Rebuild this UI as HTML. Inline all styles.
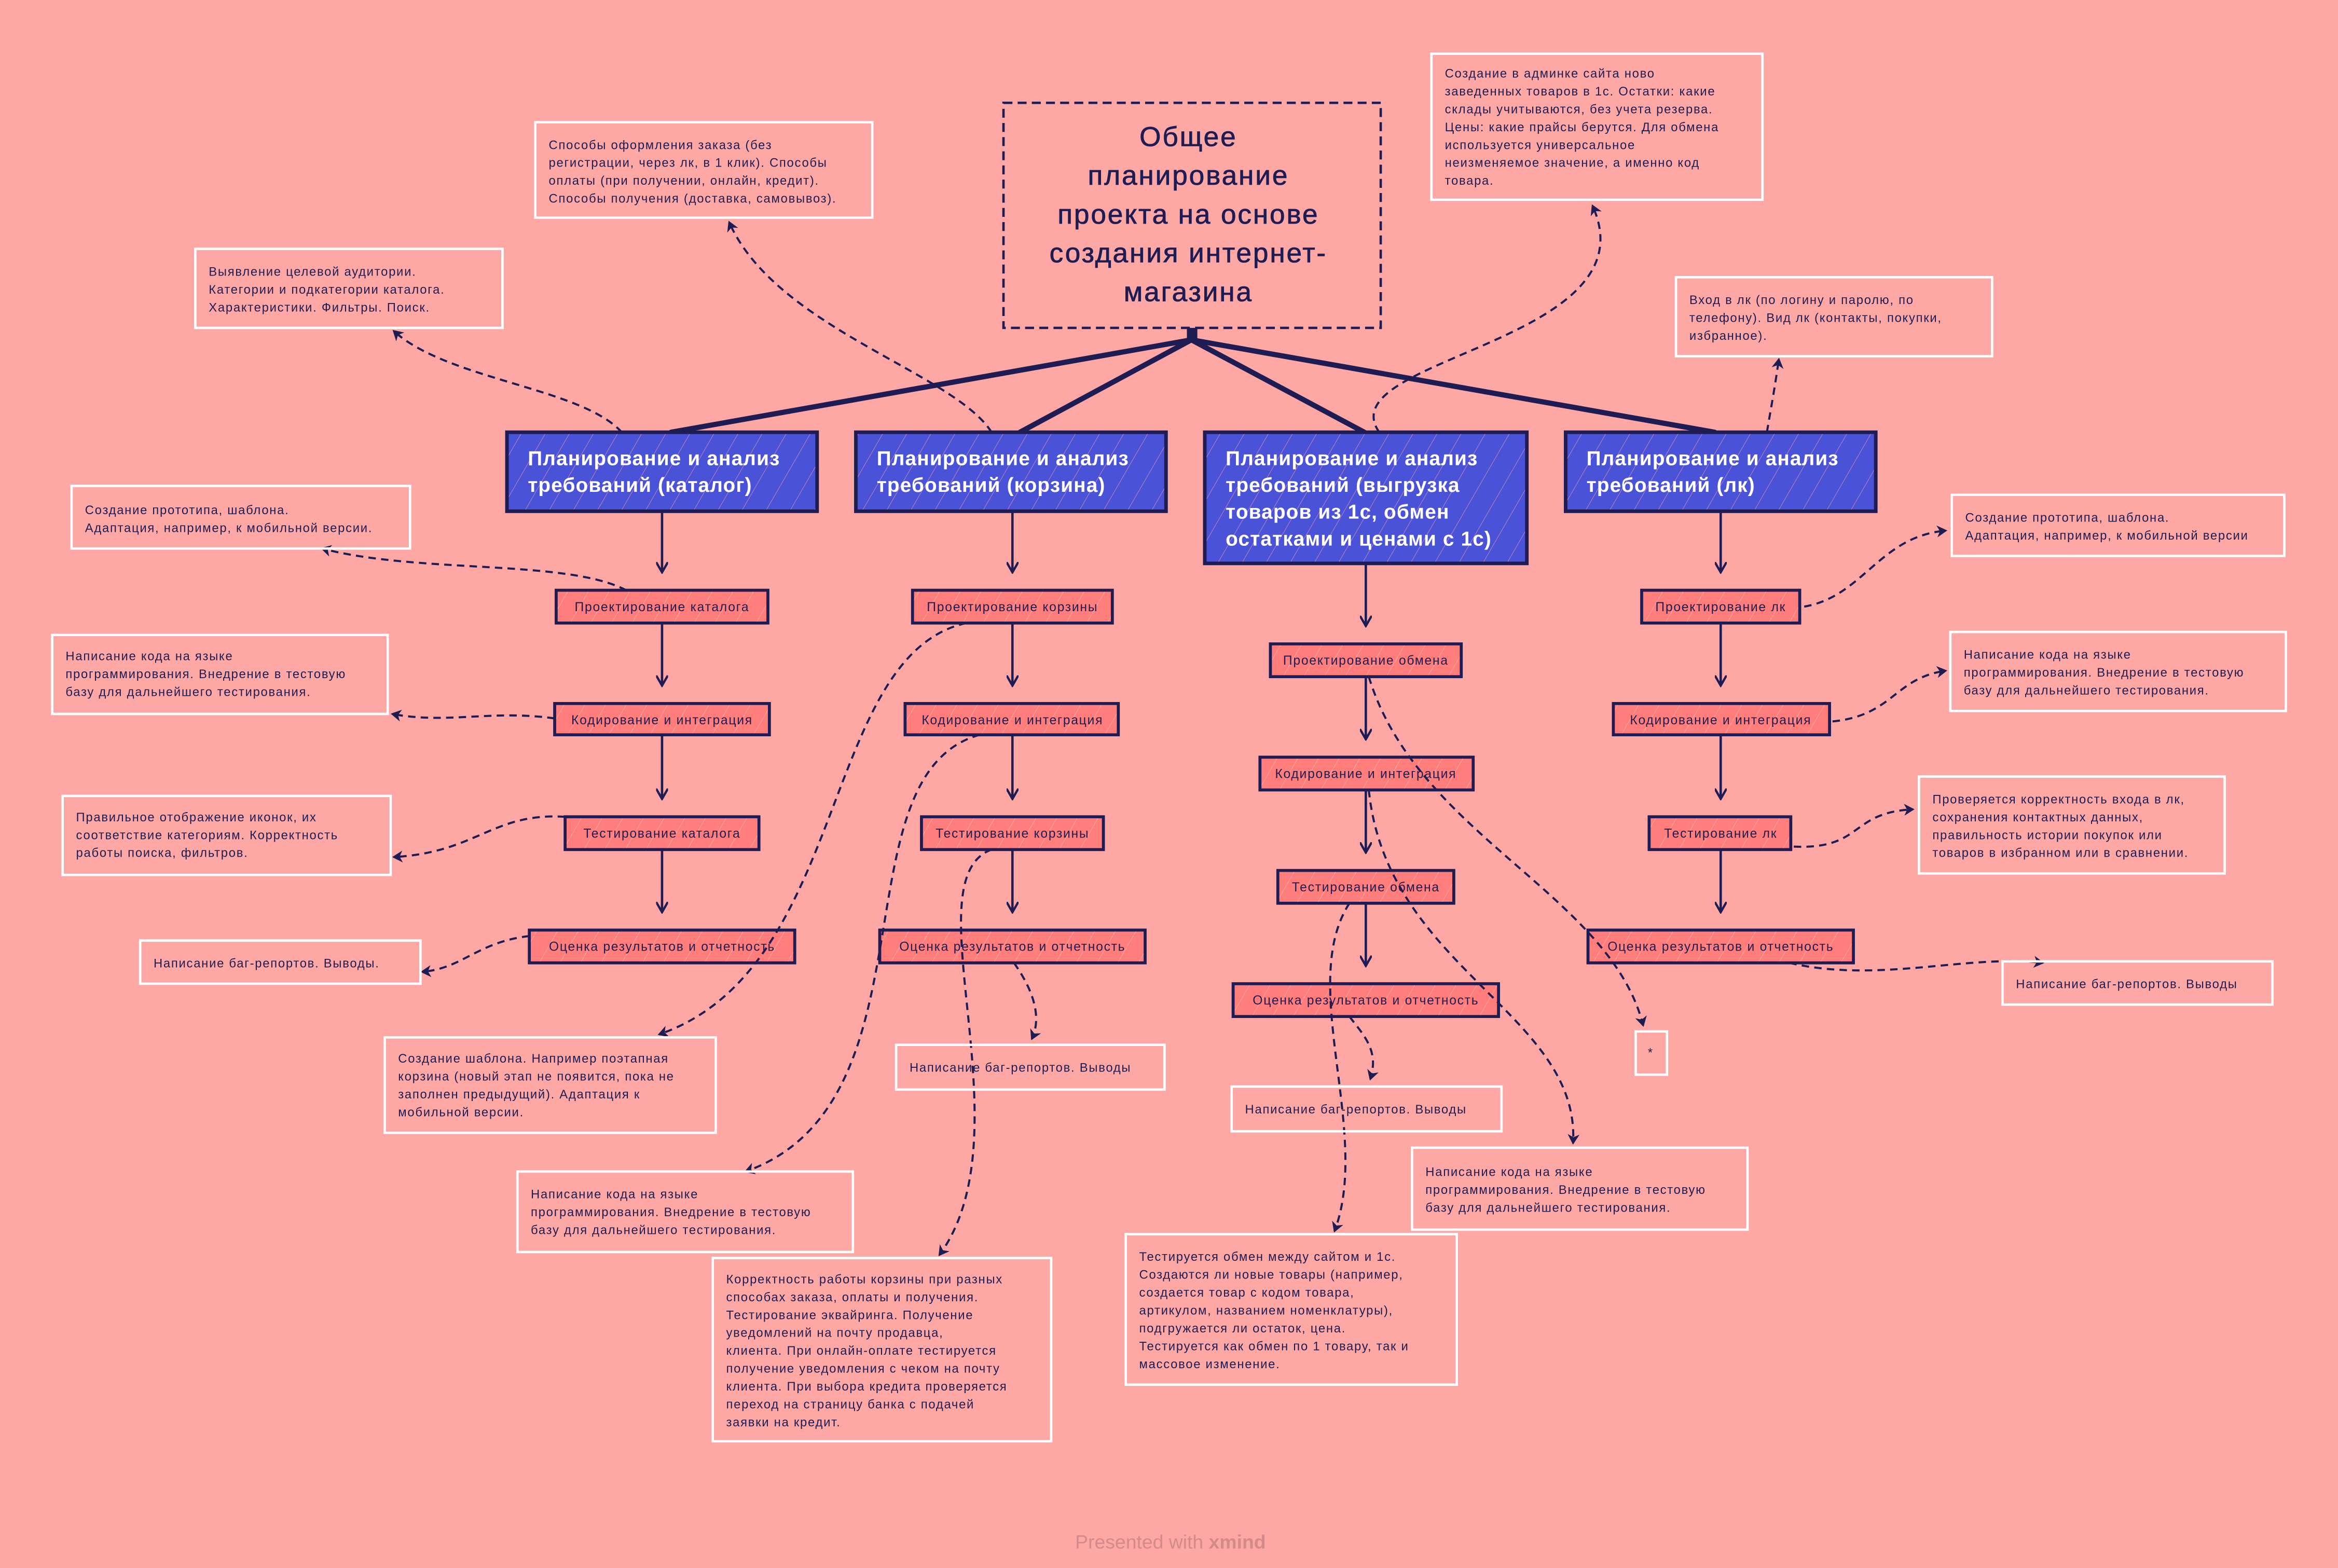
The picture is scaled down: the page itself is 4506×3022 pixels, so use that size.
<!DOCTYPE html>
<html><head><meta charset="utf-8">
<style>
html,body{margin:0;padding:0;background:#fea8a6;}
svg{display:block;}
text{font-family:"Liberation Sans","DejaVu Sans",sans-serif;}
.n{fill:none;stroke:#fff;stroke-width:1.6;}
.nt{font-size:8.3px;fill:#1e1c52;letter-spacing:0.6px;}
.sb{fill:#ff7d7b;stroke:#1e1c52;stroke-width:2;}
.st{font-size:8.6px;fill:#1e1c52;letter-spacing:0.6px;}
.bb{fill:#4a52d8;stroke:#1e1c52;stroke-width:2.4;}
.bt{font-size:13.5px;fill:#fff;font-weight:bold;letter-spacing:0.4px;}
.d{fill:none;stroke:#1e1c52;stroke-width:1.4;stroke-dasharray:5 3.5;marker-end:url(#ah);}
.s{fill:none;stroke:#1e1c52;stroke-width:1.6;marker-end:url(#ah2);}
.t{stroke:#1e1c52;stroke-width:3.5;stroke-linecap:round;}
</style></head><body>
<svg width="4506" height="3022" viewBox="0 0 1568 1052" preserveAspectRatio="none" xmlns="http://www.w3.org/2000/svg">
<defs>
<marker id="ah" markerWidth="8" markerHeight="8" refX="6" refY="4" orient="auto" markerUnits="userSpaceOnUse"><path d="M0,0 L7,4 L0,8 L2,4 Z" fill="#1e1c52"/></marker>
<marker id="ah2" markerWidth="8" markerHeight="8" refX="6" refY="4" orient="auto" markerUnits="userSpaceOnUse"><path d="M0,0 L7,4 L0,8" fill="none" stroke="#1e1c52" stroke-width="1.5"/></marker>
<pattern id="hb" width="14" height="14" patternUnits="userSpaceOnUse" patternTransform="rotate(30)"><rect width="14" height="14" fill="#4a52d8"/><line x1="0" y1="0" x2="0" y2="14" stroke="#f09aa8" stroke-width="0.6" opacity="0.8"/></pattern>
<pattern id="hs" width="12" height="12" patternUnits="userSpaceOnUse" patternTransform="rotate(30)"><rect width="12" height="12" fill="#ff7d7b"/><line x1="0" y1="0" x2="0" y2="12" stroke="#ffb0ae" stroke-width="0.6"/></pattern>
</defs>
<rect width="1568" height="1052" fill="#fea8a6"/>

<rect x="673" y="69" width="253" height="151" fill="none" stroke="#1e1c52" stroke-width="1.6" stroke-dasharray="6 3.5"/>
<g font-size="18.5" fill="#1e1c52" text-anchor="middle" letter-spacing="1" stroke="#1e1c52" stroke-width="0.3">
<text x="797" y="98">Общее</text>
<text x="797" y="124">планирование</text>
<text x="797" y="150">проекта на основе</text>
<text x="797" y="176">создания интернет-</text>
<text x="797" y="202">магазина</text>
</g>
<rect x="796" y="220" width="7" height="8" fill="#1e1c52"/>
<line class="t" x1="799" y1="228" x2="450" y2="290"/>
<line class="t" x1="799" y1="228" x2="684" y2="290"/>
<line class="t" x1="799" y1="228" x2="915" y2="290"/>
<line class="t" x1="799" y1="228" x2="1150" y2="290"/>

<rect class="bb" x="340" y="290" width="208" height="53" style="fill:url(#hb)"/>
<text class="bt" x="354" y="312">Планирование и анализ</text>
<text class="bt" x="354" y="330">требований (каталог)</text>
<rect class="bb" x="574" y="290" width="208" height="53" style="fill:url(#hb)"/>
<text class="bt" x="588" y="312">Планирование и анализ</text>
<text class="bt" x="588" y="330">требований (корзина)</text>
<rect class="bb" x="808" y="290" width="216" height="88" style="fill:url(#hb)"/>
<text class="bt" x="822" y="312">Планирование и анализ</text>
<text class="bt" x="822" y="330">требований (выгрузка</text>
<text class="bt" x="822" y="348">товаров из 1с, обмен</text>
<text class="bt" x="822" y="366">остатками и ценами с 1с)</text>
<rect class="bb" x="1050" y="290" width="208" height="53" style="fill:url(#hb)"/>
<text class="bt" x="1064" y="312">Планирование и анализ</text>
<text class="bt" x="1064" y="330">требований (лк)</text>

<path class="s" d="M444,343 V383"/><path class="s" d="M444,418 V459"/><path class="s" d="M444,493 V535"/><path class="s" d="M444,570 V611"/>
<path class="s" d="M679,343 V383"/><path class="s" d="M679,418 V459"/><path class="s" d="M679,493 V535"/><path class="s" d="M679,570 V611"/>
<path class="s" d="M916,378 V419"/><path class="s" d="M916,454 V495"/><path class="s" d="M916,530 V571"/><path class="s" d="M916,606 V647"/>
<path class="s" d="M1154,343 V383"/><path class="s" d="M1154,418 V459"/><path class="s" d="M1154,493 V535"/><path class="s" d="M1154,570 V611"/>

<g>
<rect class="sb" x="373" y="396" width="142" height="22" style="fill:url(#hs)"/><text class="st" x="444" y="410" text-anchor="middle">Проектирование каталога</text>
<rect class="sb" x="372" y="472" width="144" height="21" style="fill:url(#hs)"/><text class="st" x="444" y="486" text-anchor="middle">Кодирование и интеграция</text>
<rect class="sb" x="379" y="548" width="130" height="22" style="fill:url(#hs)"/><text class="st" x="444" y="562" text-anchor="middle">Тестирование каталога</text>
<rect class="sb" x="355" y="624" width="178" height="22" style="fill:url(#hs)"/><text class="st" x="444" y="638" text-anchor="middle">Оценка результатов и отчетность</text>

<rect class="sb" x="612" y="396" width="134" height="22" style="fill:url(#hs)"/><text class="st" x="679" y="410" text-anchor="middle">Проектирование корзины</text>
<rect class="sb" x="607" y="472" width="143" height="21" style="fill:url(#hs)"/><text class="st" x="679" y="486" text-anchor="middle">Кодирование и интеграция</text>
<rect class="sb" x="618" y="548" width="122" height="22" style="fill:url(#hs)"/><text class="st" x="679" y="562" text-anchor="middle">Тестирование корзины</text>
<rect class="sb" x="590" y="624" width="178" height="22" style="fill:url(#hs)"/><text class="st" x="679" y="638" text-anchor="middle">Оценка результатов и отчетность</text>

<rect class="sb" x="852" y="432" width="128" height="22" style="fill:url(#hs)"/><text class="st" x="916" y="446" text-anchor="middle">Проектирование обмена</text>
<rect class="sb" x="845" y="508" width="143" height="22" style="fill:url(#hs)"/><text class="st" x="916" y="522" text-anchor="middle">Кодирование и интеграция</text>
<rect class="sb" x="857" y="584" width="118" height="22" style="fill:url(#hs)"/><text class="st" x="916" y="598" text-anchor="middle">Тестирование обмена</text>
<rect class="sb" x="827" y="660" width="178" height="22" style="fill:url(#hs)"/><text class="st" x="916" y="674" text-anchor="middle">Оценка результатов и отчетность</text>

<rect class="sb" x="1101" y="396" width="106" height="22" style="fill:url(#hs)"/><text class="st" x="1154" y="410" text-anchor="middle">Проектирование лк</text>
<rect class="sb" x="1082" y="472" width="145" height="21" style="fill:url(#hs)"/><text class="st" x="1154" y="486" text-anchor="middle">Кодирование и интеграция</text>
<rect class="sb" x="1106" y="548" width="95" height="22" style="fill:url(#hs)"/><text class="st" x="1154" y="562" text-anchor="middle">Тестирование лк</text>
<rect class="sb" x="1065" y="624" width="178" height="22" style="fill:url(#hs)"/><text class="st" x="1154" y="638" text-anchor="middle">Оценка результатов и отчетность</text>
</g>

<path class="d" d="M417,290 C390,260 300,255 264,222"/>
<path class="d" d="M665,290 C640,250 520,220 489,149"/>
<path class="d" d="M925,290 C890,240 1110,230 1068,138"/>
<path class="d" d="M1185,290 C1188,272 1190,262 1193,241"/>
<path class="d" d="M420,396 C380,375 280,385 216,368"/>
<path class="d" d="M372,482 C330,476 300,486 263,479"/>
<path class="d" d="M379,548 C330,545 320,572 264,575"/>
<path class="d" d="M355,628 C320,632 310,650 283,652"/>
<path class="d" d="M648,418 C550,440 570,650 442,694"/>
<path class="d" d="M657,493 C560,520 630,740 500,786"/>
<path class="d" d="M665,570 C610,590 690,760 630,842"/>
<path class="d" d="M680,646 C690,660 700,680 692,697"/>
<path class="d" d="M918,454 C950,560 1080,600 1102,688"/>
<path class="d" d="M918,530 C930,650 1060,680 1055,767"/>
<path class="d" d="M905,606 C870,660 920,760 895,826"/>
<path class="d" d="M905,682 C915,695 925,705 919,724"/>
<path class="d" d="M1210,407 C1250,400 1260,360 1305,356"/>
<path class="d" d="M1229,484 C1270,480 1270,455 1305,450"/>
<path class="d" d="M1203,568 C1250,570 1240,545 1283,543"/>
<path class="d" d="M1200,646 C1260,660 1320,640 1370,646"/>

<rect class="n" x="131" y="167" width="206" height="53"/>
<text class="nt" x="140" y="185">Выявление целевой аудитории.</text>
<text class="nt" x="140" y="197">Категории и подкатегории каталога.</text>
<text class="nt" x="140" y="209">Характеристики. Фильтры. Поиск.</text>

<rect class="n" x="359" y="82" width="226" height="64"/>
<text class="nt" x="368" y="100">Способы оформления заказа (без</text>
<text class="nt" x="368" y="112">регистрации, через лк, в 1 клик). Способы</text>
<text class="nt" x="368" y="124">оплаты (при получении, онлайн, кредит).</text>
<text class="nt" x="368" y="136">Способы получения (доставка, самовывоз).</text>

<rect class="n" x="960" y="36" width="222" height="98"/>
<text class="nt" x="969" y="52">Создание в админке сайта ново</text>
<text class="nt" x="969" y="64">заведенных товаров в 1с. Остатки: какие</text>
<text class="nt" x="969" y="76">склады учитываются, без учета резерва.</text>
<text class="nt" x="969" y="88">Цены: какие прайсы берутся. Для обмена</text>
<text class="nt" x="969" y="100">используется универсальное</text>
<text class="nt" x="969" y="112">неизменяемое значение, а именно код</text>
<text class="nt" x="969" y="124">товара.</text>

<rect class="n" x="1124" y="186" width="212" height="53"/>
<text class="nt" x="1133" y="204">Вход в лк (по логину и паролю, по</text>
<text class="nt" x="1133" y="216">телефону). Вид лк (контакты, покупки,</text>
<text class="nt" x="1133" y="228">избранное).</text>

<rect class="n" x="48" y="326" width="227" height="42"/>
<text class="nt" x="57" y="345">Создание прототипа, шаблона.</text>
<text class="nt" x="57" y="357">Адаптация, например, к мобильной версии.</text>

<rect class="n" x="35" y="426" width="225" height="53"/>
<text class="nt" x="44" y="443">Написание кода на языке</text>
<text class="nt" x="44" y="455">программирования. Внедрение в тестовую</text>
<text class="nt" x="44" y="467">базу для дальнейшего тестирования.</text>

<rect class="n" x="42" y="534" width="220" height="53"/>
<text class="nt" x="51" y="551">Правильное отображение иконок, их</text>
<text class="nt" x="51" y="563">соответствие категориям. Корректность</text>
<text class="nt" x="51" y="575">работы поиска, фильтров.</text>

<rect class="n" x="94" y="631" width="188" height="29"/>
<text class="nt" x="103" y="649">Написание баг-репортов. Выводы.</text>

<rect class="n" x="258" y="696" width="222" height="64"/>
<text class="nt" x="267" y="713">Создание шаблона. Например поэтапная</text>
<text class="nt" x="267" y="725">корзина (новый этап не появится, пока не</text>
<text class="nt" x="267" y="737">заполнен предыдущий). Адаптация к</text>
<text class="nt" x="267" y="749">мобильной версии.</text>

<rect class="n" x="347" y="786" width="225" height="54"/>
<text class="nt" x="356" y="804">Написание кода на языке</text>
<text class="nt" x="356" y="816">программирования. Внедрение в тестовую</text>
<text class="nt" x="356" y="828">базу для дальнейшего тестирования.</text>

<rect class="n" x="478" y="844" width="227" height="123"/>
<text class="nt" x="487" y="861">Корректность работы корзины при разных</text>
<text class="nt" x="487" y="873">способах заказа, оплаты и получения.</text>
<text class="nt" x="487" y="885">Тестирование эквайринга. Получение</text>
<text class="nt" x="487" y="897">уведомлений на почту продавца,</text>
<text class="nt" x="487" y="909">клиента. При онлайн-оплате тестируется</text>
<text class="nt" x="487" y="921">получение уведомления с чеком на почту</text>
<text class="nt" x="487" y="933">клиента. При выбора кредита проверяется</text>
<text class="nt" x="487" y="945">переход на страницу банка с подачей</text>
<text class="nt" x="487" y="957">заявки на кредит.</text>

<rect class="n" x="601" y="701" width="180" height="30"/>
<text class="nt" x="610" y="719">Написание баг-репортов. Выводы</text>

<rect class="n" x="826" y="729" width="181" height="30"/>
<text class="nt" x="835" y="747">Написание баг-репортов. Выводы</text>

<rect class="n" x="947" y="770" width="225" height="55"/>
<text class="nt" x="956" y="789">Написание кода на языке</text>
<text class="nt" x="956" y="801">программирования. Внедрение в тестовую</text>
<text class="nt" x="956" y="813">базу для дальнейшего тестирования.</text>

<rect class="n" x="755" y="828" width="222" height="101"/>
<text class="nt" x="764" y="846">Тестируется обмен между сайтом и 1с.</text>
<text class="nt" x="764" y="858">Создаются ли новые товары (например,</text>
<text class="nt" x="764" y="870">создается товар с кодом товара,</text>
<text class="nt" x="764" y="882">артикулом, названием номенклатуры),</text>
<text class="nt" x="764" y="894">подгружается ли остаток, цена.</text>
<text class="nt" x="764" y="906">Тестируется как обмен по 1 товару, так и</text>
<text class="nt" x="764" y="918">массовое изменение.</text>

<rect class="n" x="1097" y="692" width="21" height="29"/>
<text class="nt" x="1107" y="709" text-anchor="middle">*</text>

<rect class="n" x="1309" y="332" width="223" height="41"/>
<text class="nt" x="1318" y="350">Создание прототипа, шаблона.</text>
<text class="nt" x="1318" y="362">Адаптация, например, к мобильной версии</text>

<rect class="n" x="1308" y="424" width="225" height="53"/>
<text class="nt" x="1317" y="442">Написание кода на языке</text>
<text class="nt" x="1317" y="454">программирования. Внедрение в тестовую</text>
<text class="nt" x="1317" y="466">базу для дальнейшего тестирования.</text>

<rect class="n" x="1287" y="521" width="205" height="65"/>
<text class="nt" x="1296" y="539">Проверяется корректность входа в лк,</text>
<text class="nt" x="1296" y="551">сохранения контактных данных,</text>
<text class="nt" x="1296" y="563">правильность истории покупок или</text>
<text class="nt" x="1296" y="575">товаров в избранном или в сравнении.</text>

<rect class="n" x="1343" y="645" width="181" height="29"/>
<text class="nt" x="1352" y="663">Написание баг-репортов. Выводы</text>

<text x="785" y="1039" text-anchor="middle" font-size="13" fill="#d48a8a">Presented with <tspan font-weight="bold">xmind</tspan></text>
</svg>
</body></html>
